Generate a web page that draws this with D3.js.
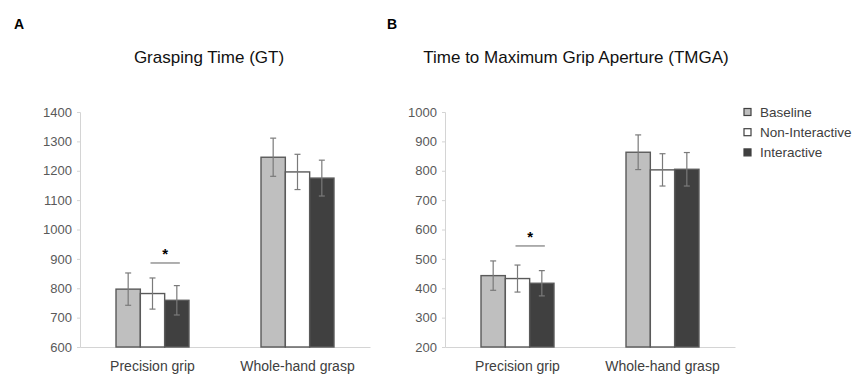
<!DOCTYPE html>
<html>
<head>
<meta charset="utf-8">
<script src="https://cdn.jsdelivr.net/npm/d3@7"></script>
<style>
  body { margin: 0; background: #fff; }
  svg { font-family: "Liberation Sans", Arial, sans-serif; }
</style>
</head>
<body>
<div id="chart"></div>
<script>
const categories = ['Precision grip', 'Whole-hand grasp'];
const seriesNames = ['Baseline', 'Non-Interactive', 'Interactive'];
const seriesColors = ['#bfbfbf', '#ffffff', '#404040'];

// panel A: grasping time
const gtMeans = [[797, 1246], [782, 1196], [759, 1175]];
const gtErrors = [[55, 65], [53, 60], [50, 61]];
const gtTicks = [600, 700, 800, 900, 1000, 1100, 1200, 1300, 1400];
const gtSig = 886;

// panel B: time to max grip aperture
const tmgaMeans = [[443, 863], [433, 803], [417, 805]];
const tmgaErrors = [[50, 59], [46, 55], [43, 57]];
const tmgaTicks = [200, 300, 400, 500, 600, 700, 800, 900, 1000];
const tmgaSig = 544;

const svg = d3.select('#chart').append('svg')
  .attr('width', 853)
  .attr('height', 374);

function drawPanel(opt) {
  const g = svg.append('g');
  const top = 112, bottom = 347;

  const y = d3.scaleLinear()
    .domain([opt.ticks[0], opt.ticks[opt.ticks.length - 1]])
    .range([bottom, top]);

  const x = d3.scaleBand()
    .domain(categories)
    .range([opt.left, opt.left + 290])
    .padding(0);

  const xs = d3.scaleBand()
    .domain(seriesNames)
    .range([0, x.bandwidth()])
    .paddingInner(0)
    .paddingOuter(1.48);

  // y axis
  const ya = g.append('g')
    .attr('transform', `translate(${opt.left},0)`)
    .call(d3.axisLeft(y).tickValues(opt.ticks).tickFormat(d3.format('d'))
      .tickSize(3).tickPadding(5).tickSizeOuter(3));
  ya.select('.domain').attr('stroke', '#d4d4d4');
  ya.selectAll('.tick line').attr('stroke', '#d4d4d4');
  ya.selectAll('.tick text')
    .attr('fill', '#595959')
    .style('font-size', '13px')
    .style('font-family', '"Liberation Sans", Arial, sans-serif');

  // x axis
  const xa = g.append('g')
    .attr('transform', `translate(0,${bottom})`)
    .call(d3.axisBottom(x).tickSize(0).tickPadding(14).tickSizeOuter(0));
  xa.select('.domain').attr('stroke', '#d4d4d4');
  xa.selectAll('.tick text')
    .attr('fill', '#404040')
    .style('font-size', '14px')
    .style('font-family', '"Liberation Sans", Arial, sans-serif');

  // bars
  const groups = g.selectAll('.grp')
    .data(seriesNames)
    .enter()
    .append('g')
    .attr('class', 'grp');

  groups.each(function(s, si) {
    const sg = d3.select(this);
    const rows = categories.map((c, ci) => ({
      cat: c, v: opt.means[si][ci], e: opt.errors[si][ci]
    }));
    sg.selectAll('rect')
      .data(rows)
      .enter()
      .append('rect')
      .attr('x', d => x(d.cat) + xs(s))
      .attr('y', d => y(d.v))
      .attr('width', xs.bandwidth())
      .attr('height', d => bottom - y(d.v))
      .attr('fill', seriesColors[si])
      .attr('stroke', '#5a5a5a')
      .attr('stroke-width', 1.4);

    // error bars
    const cx = d => x(d.cat) + xs(s) + xs.bandwidth() / 2;
    sg.selectAll('.eb')
      .data(rows)
      .enter()
      .append('line')
      .attr('class', 'eb')
      .attr('x1', cx).attr('x2', cx)
      .attr('y1', d => y(d.v + d.e))
      .attr('y2', d => y(d.v - d.e))
      .attr('stroke', '#7a7a7a')
      .attr('stroke-width', 1.2);
    [1, -1].forEach((sign, k) => {
      sg.selectAll('.cap' + k)
        .data(rows)
        .enter()
        .append('line')
        .attr('class', 'cap' + k)
        .attr('x1', d => cx(d) - 3).attr('x2', d => cx(d) + 3)
        .attr('y1', d => y(d.v + sign * d.e))
        .attr('y2', d => y(d.v + sign * d.e))
        .attr('stroke', '#7a7a7a')
        .attr('stroke-width', 1.2);
    });
  });

  // significance marker
  const c0 = categories[0];
  const x1 = x(c0) + xs(seriesNames[1]) + xs.bandwidth() / 2 - 2;
  const x2 = x(c0) + xs(seriesNames[2]) + xs.bandwidth() / 2 + 3;
  g.append('line')
    .attr('x1', x1).attr('x2', x2)
    .attr('y1', y(opt.sig)).attr('y2', y(opt.sig))
    .attr('stroke', '#7a7a7a')
    .attr('stroke-width', 1.2);
  g.append('text')
    .attr('x', (x1 + x2) / 2)
    .attr('y', y(opt.sig) - 4)
    .attr('text-anchor', 'middle')
    .style('font-size', '15px')
    .style('font-weight', 'bold')
    .attr('fill', '#000')
    .text('*');

  // title + panel letter
  g.append('text')
    .attr('x', opt.titleX)
    .attr('y', 63)
    .attr('text-anchor', 'middle')
    .style('font-size', '17px')
    .attr('fill', '#111')
    .text(opt.title);
  g.append('text')
    .attr('x', opt.letterX)
    .attr('y', 29)
    .style('font-size', '14px')
    .style('font-weight', 'bold')
    .attr('fill', '#000')
    .text(opt.letter);
}

drawPanel({
  left: 80, means: gtMeans, errors: gtErrors, ticks: gtTicks, sig: gtSig,
  title: 'Grasping Time (GT)', titleX: 209, letter: 'A', letterX: 14
});
drawPanel({
  left: 445, means: tmgaMeans, errors: tmgaErrors, ticks: tmgaTicks, sig: tmgaSig,
  title: 'Time to Maximum Grip Aperture (TMGA)', titleX: 576, letter: 'B', letterX: 387
});

// legend
const legend = svg.append('g')
  .attr('transform', 'translate(744,112)');
const li = legend.selectAll('g')
  .data(seriesNames)
  .enter()
  .append('g')
  .attr('transform', (d, i) => `translate(0,${i * 20.2})`);
li.append('rect')
  .attr('x', 0).attr('y', -3.5)
  .attr('width', 7).attr('height', 7)
  .attr('fill', (d, i) => seriesColors[i])
  .attr('stroke', '#404040')
  .attr('stroke-width', 1.2);
li.append('text')
  .attr('x', 16)
  .attr('y', 5)
  .style('font-size', '13.5px')
  .attr('fill', '#404040')
  .text(d => d);
</script>
</body>
</html>
